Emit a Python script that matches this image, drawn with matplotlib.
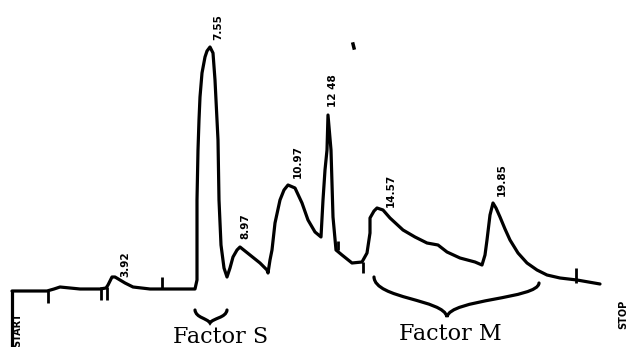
import numpy as np
import matplotlib
matplotlib.use("Agg")
import matplotlib.pyplot as plt
from matplotlib.path import Path
from matplotlib.patches import PathPatch

# chromatogram trace, chart units (time axis left->right, response measured downward from top)
trace_t = [12, 47, 54, 60, 70, 80, 100, 106, 108, 110, 112, 115, 120, 125, 133,
           150, 170, 195,
           197, 197, 198, 199, 200, 202, 205, 207, 210, 213, 215, 216, 217,
           218, 219, 221, 224, 227,
           230, 233, 237, 240, 245, 250, 260, 267, 268,
           270, 272, 275, 280, 284, 288, 295, 302, 308, 315, 321,
           323, 325, 327, 328, 331, 333, 336, 342, 352, 362, 367, 370, 370,
           374, 377, 383, 390, 403, 415, 427, 438, 447, 460, 475, 482,
           485, 487, 490, 493, 496, 500, 505, 510, 518, 527, 537, 547, 560,
           577, 600]
trace_r = [291, 291, 289, 287, 288, 289, 289, 288, 285, 281, 277, 277, 280, 283, 287,
           289, 289, 289,
           280, 200, 150, 120, 97, 73, 57, 51, 47, 53, 80, 100, 120,
           140, 200, 245, 268, 277,
           268, 257, 250, 247, 251, 255, 263, 270, 273,
           260, 250, 223, 200, 190, 185, 188, 203, 220, 232, 237,
           200, 170, 150, 115, 150, 217, 250, 255, 263, 262, 253, 233, 218,
           211, 208, 210, 218, 230, 237, 243, 245, 252, 258, 262, 265,
           255, 240, 215, 203, 208, 217, 229, 240, 253, 263, 270, 275, 278,
           280, 284]

# recorder ticks on the trace: (time, from, to)
tick_t = [48, 101, 107, 162, 338, 363, 576]
tick_from = [291, 287, 287, 289, 250, 262, 283]
tick_to = [303, 300, 300, 277, 241, 273, 268]

# retention time labels
peak_labels = ["3.92", "7.55", "8.97", "10.97", "12 48", "14.57", "19.85"]
label_t = [125, 218, 245, 298, 333, 391, 502]
label_r = [277, 40, 239, 178, 107, 207, 196]

fig = plt.figure(figsize=(6.31, 3.47), dpi=100)
ax = fig.add_axes([0, 0, 1, 1])
ax.set_xlim(0, 631)
ax.set_ylim(347, 0)
ax.axis("off")

ink = "#000000"
ax.plot(trace_t, trace_r, color=ink, lw=2.3, solid_joinstyle="round",
        solid_capstyle="round")
ax.vlines(tick_t, tick_from, tick_to, color=ink, lw=2.0)
# start pen line
ax.vlines([12], 291, 347, color=ink, lw=2.3)
# stray marks
ax.plot([353, 354], [44, 48], color=ink, lw=2.5)

for lab, t, r in zip(peak_labels, label_t, label_r):
    ax.text(t, r, lab, rotation=90, ha="center", va="bottom",
            fontsize=7.5, fontweight="bold", color=ink)

ax.text(17, 347, "START", rotation=90, ha="center", va="bottom",
        fontsize=7, fontweight="bold", color=ink)
ax.text(623, 329, "STOP", rotation=90, ha="center", va="bottom",
        fontsize=7, fontweight="bold", color=ink)


def brace(x0, x1, cx, yl, yr, ymid, ycusp):
    verts = [(x0, yl), (x0 + 1, ymid), (cx - 3, ymid), (cx, ycusp),
             (cx + 3, ymid), (x1 - 1, ymid), (x1, yr)]
    codes = [Path.MOVETO, Path.CURVE4, Path.CURVE4, Path.CURVE4,
             Path.CURVE4, Path.CURVE4, Path.CURVE4]
    ax.add_patch(PathPatch(Path(verts, codes), fill=False, lw=2.3,
                           edgecolor=ink, capstyle="round"))


brace(195, 227, 210, 310, 310, 318, 323)
brace(374, 539, 447, 277, 283, 299, 317)

ax.text(221, 343, "Factor S", ha="center", va="baseline",
        fontsize=16, family="DejaVu Serif", color=ink)
ax.text(450, 340, "Factor M", ha="center", va="baseline",
        fontsize=16, family="DejaVu Serif", color=ink)

fig.savefig("out.png", dpi=100, facecolor="white")
